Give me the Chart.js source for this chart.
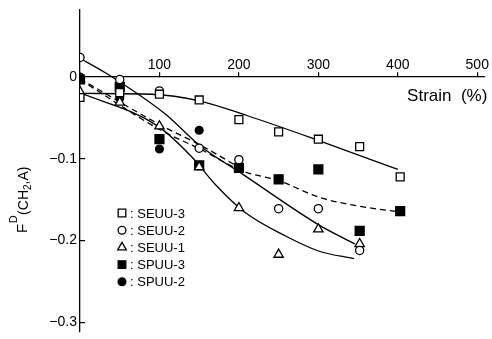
<!DOCTYPE html>
<html>
<head>
<meta charset="utf-8">
<script src="https://cdn.jsdelivr.net/npm/chart.js@4.4.1/dist/chart.umd.min.js"></script>
<style>
  html, body { margin: 0; padding: 0; background: #fff; }
  #wrap { width: 492px; height: 339px; }
</style>
</head>
<body>
<div id="wrap"><canvas id="orientChart" width="492" height="339"></canvas></div>
<script>
// measured points (strain %, F value)
const seuu3 = [[0,-0.025],[50,-0.019],[100,-0.021],[150,-0.028],[200,-0.052],[250,-0.067],[300,-0.076],[352,-0.085],[403,-0.122]];
const seuu2 = [[0,0.024],[50,-0.003],[100,-0.017],[150,-0.087],[200,-0.101],[250,-0.161],[300,-0.161],[352,-0.212]];
const seuu1 = [[0,-0.018],[50,-0.031],[100,-0.060],[150,-0.110],[200,-0.160],[250,-0.217],[300,-0.186],[352,-0.204]];
const spuu3 = [[0,-0.003],[50,-0.012],[100,-0.076],[150,-0.108],[200,-0.111],[250,-0.125],[300,-0.113],[352,-0.188],[403,-0.164]];
const spuu2 = [[0,0.0],[50,-0.026],[100,-0.088],[150,-0.065]];

// hand drawn trend curves
const fitSeuu3 = [[6,-0.020],[90,-0.021],[150,-0.029],[210,-0.047],[293,-0.075],[400,-0.113]];
const fitSeuu2 = [[0,0.023],[34,0.004],[107,-0.045],[151,-0.084],[205,-0.119],[301,-0.181],[346,-0.204]];
const fitSeuu1 = [[0,-0.019],[98,-0.060],[142,-0.099],[170,-0.131],[207,-0.165],[260,-0.195],[301,-0.213],[345,-0.222]];
const fitSpuu3 = [[0,-0.003],[100,-0.064],[151,-0.088],[205,-0.115],[251,-0.127],[301,-0.147],[352,-0.158],[403,-0.165]];
const fitSpuu2 = [[0,-0.002],[100,-0.058],[151,-0.083],[205,-0.113]];

const xTicks = [100, 200, 300, 400, 500];
const yTicks = [0, -0.1, -0.2, -0.3];

const FONT = '"Liberation Sans", Arial, Helvetica, sans-serif';
const toXY = arr => arr.map(p => ({x: p[0], y: p[1]}));

// legend entries: label, pointStyle, filled, radius
const marks = [
    {label: 'SEUU-3', data: seuu3, style: 'rect', filled: false, r: 5.6},
    {label: 'SEUU-2', data: seuu2, style: 'circle', filled: false, r: 4.1},
    {label: 'SEUU-1', data: seuu1, style: 'triangle', filled: false, r: 5.4},
    {label: 'SPUU-3', data: spuu3, style: 'rect', filled: true, r: 6.3},
    {label: 'SPUU-2', data: spuu2, style: 'circle', filled: true, r: 3.9}
];

const datasets = marks.map(m => ({
    label: m.label,
    data: toXY(m.data),
    showLine: false,
    pointStyle: m.style,
    pointRadius: m.r,
    pointBorderWidth: 1.3,
    pointBorderColor: '#000',
    pointBackgroundColor: m.filled ? '#000' : '#fff'
}));

function curve(arr, dashed) {
    return {
        label: '',
        data: toXY(arr),
        showLine: true,
        pointRadius: 0,
        borderColor: '#000',
        borderWidth: 1.3,
        borderDash: dashed ? [6, 4] : [],
        cubicInterpolationMode: 'monotone',
        fill: false
    };
}
datasets.push(curve(fitSeuu3, false), curve(fitSeuu2, false), curve(fitSeuu1, false),
              curve(fitSpuu3, true), curve(fitSpuu2, true));

function drawSymbol(ctx, m, x, y) {
    ctx.save();
    ctx.lineWidth = 1.3;
    ctx.strokeStyle = '#000';
    ctx.fillStyle = m.filled ? '#000' : '#fff';
    ctx.beginPath();
    if (m.style === 'rect') {
        const s = m.r * Math.SQRT1_2;
        ctx.rect(x - s, y - s, 2 * s, 2 * s);
    } else if (m.style === 'circle') {
        ctx.arc(x, y, m.r, 0, Math.PI * 2);
    } else {
        const r = m.r;
        ctx.moveTo(x, y - r);
        ctx.lineTo(x + r * Math.sin(Math.PI * 2 / 3), y - r * Math.cos(Math.PI * 2 / 3));
        ctx.lineTo(x + r * Math.sin(Math.PI * 4 / 3), y - r * Math.cos(Math.PI * 4 / 3));
        ctx.closePath();
    }
    ctx.fill();
    ctx.stroke();
    ctx.restore();
}

// texts that chart.js cannot set itself: axis labels with sub/superscripts, inner legend
const extras = {
    id: 'extras',
    afterDraw(chart) {
        const ctx = chart.ctx;
        const xs = chart.scales.x;
        ctx.save();
        ctx.fillStyle = '#000';

        // x axis name
        ctx.font = '17px ' + FONT;
        ctx.textAlign = 'right';
        ctx.textBaseline = 'middle';
        ctx.fillText('Strain  (%)', xs.right + 3, 96);

        // y axis name  F^D (CH2,A), rotated
        ctx.translate(27, 233);
        ctx.rotate(-Math.PI / 2);
        ctx.textAlign = 'left';
        ctx.textBaseline = 'alphabetic';
        let px = 0;
        ctx.font = '15px ' + FONT;
        ctx.fillText('F', px, 0);
        px += ctx.measureText('F').width + 0.5;
        ctx.font = '11px ' + FONT;
        ctx.fillText('D', px, -10);
        px += ctx.measureText('D').width + 0.5;
        ctx.font = '14px ' + FONT;
        ctx.fillText('(CH', px, 1);
        px += ctx.measureText('(CH').width;
        ctx.font = '10px ' + FONT;
        ctx.fillText('2', px, 4);
        px += ctx.measureText('2').width;
        ctx.font = '14px ' + FONT;
        ctx.fillText(',A)', px, 1);
        ctx.restore();

        // legend inside the plot
        ctx.save();
        ctx.font = '13px ' + FONT;
        ctx.textAlign = 'left';
        ctx.textBaseline = 'middle';
        ctx.fillStyle = '#000';
        marks.forEach((m, i) => {
            const y = 213 + i * 17.2;
            const legendMark = Object.assign({}, m, {r: m.style === 'rect' ? 5.4 : (m.style === 'triangle' ? 5 : 3.9)});
            drawSymbol(ctx, legendMark, 122, y);
            ctx.fillText(': ' + m.label, 130, y + 1);
        });
        ctx.restore();
    }
};

const chart = new Chart(document.getElementById('orientChart'), {
    type: 'scatter',
    data: {datasets: datasets},
    options: {
        responsive: false,
        animation: false,
        devicePixelRatio: 1,
        events: [],
        layout: {padding: {left: 20, top: 10, right: 7, bottom: 3}},
        plugins: {
            legend: {display: false},
            tooltip: {enabled: false}
        },
        scales: {
            x: {
                type: 'linear',
                position: {y: 0},
                min: 0,
                max: 509,
                afterBuildTicks: s => { s.ticks = [0].concat(xTicks).map(v => ({value: v})); },
                afterFit: s => { s.paddingLeft = 0; s.paddingRight = 0; },
                ticks: {
                    color: '#000',
                    font: {size: 14, family: FONT},
                    padding: -15,
                    maxRotation: 0,
                    autoSkip: false,
                    callback: v => v === 0 ? '' : String(v)
                },
                grid: {drawOnChartArea: false, drawTicks: true, tickLength: -5, color: '#000', lineWidth: 1.2},
                border: {color: '#000', width: 1.3}
            },
            y: {
                type: 'linear',
                position: 'left',
                min: -0.311,
                max: 0.082,
                afterBuildTicks: s => { s.ticks = yTicks.map(v => ({value: v})); },
                afterFit: s => { s.width = 60; s.paddingTop = 0; s.paddingBottom = 0; },
                ticks: {
                    color: '#000',
                    font: {size: 14, family: FONT},
                    padding: 8,
                    callback: v => v === 0 ? '0' : '\u2212' + Math.abs(v).toFixed(1)
                },
                grid: {drawOnChartArea: false, drawTicks: true, tickLength: -5, color: '#000', lineWidth: 1.2},
                border: {color: '#000', width: 1.3}
            }
        }
    },
    plugins: [extras]
});
</script>
</body>
</html>
